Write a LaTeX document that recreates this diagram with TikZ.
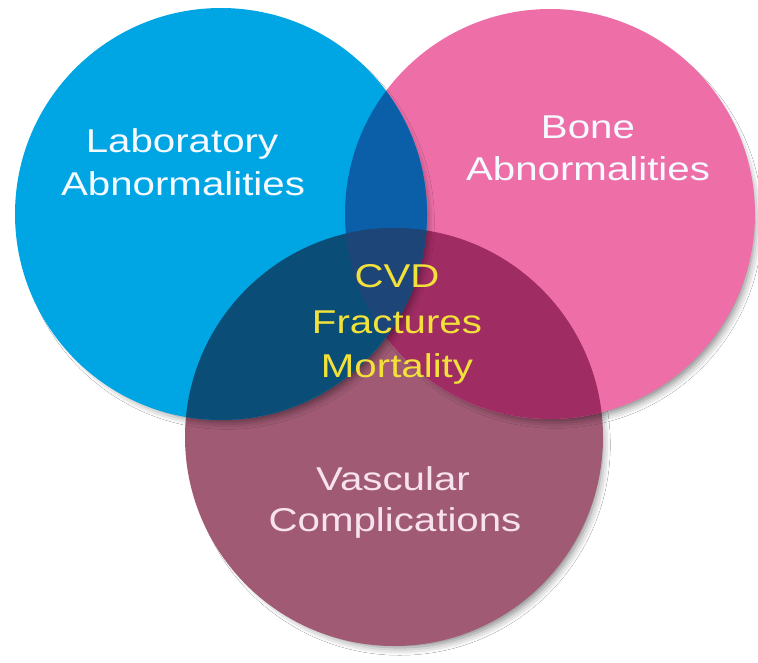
\documentclass[tikz,border=0pt]{standalone}
\usepackage{fontspec}
\setmainfont{Liberation Sans}
\newfontfamily\vennfont[FakeStretch=1.22]{Liberation Sans}
\usetikzlibrary{shadows.blur}
\definecolor{cblue}{HTML}{00A6E4}
\definecolor{cpink}{HTML}{EE6FA8}
\definecolor{cmauve}{HTML}{A05A74}
\definecolor{cbp}{HTML}{0B5FA8}
\definecolor{cbm}{HTML}{0A4E78}
\definecolor{cpm}{HTML}{A02C64}
\definecolor{cbpm}{HTML}{1D4577}
\definecolor{cyel}{HTML}{F2E13A}
\definecolor{cwhite}{HTML}{F4FAFF}
\definecolor{cvtext}{HTML}{F8E2EE}
\tikzset{
  lbl/.style={anchor=base, inner sep=0pt, font=\vennfont\fontsize{33}{43}\selectfont},
  sh/.style={blur shadow={shadow xshift=6pt, shadow yshift=-8pt, shadow scale=0.97, shadow blur radius=8pt, shadow opacity=50}}
}
\begin{document}
\begin{tikzpicture}[x=1pt,y=-1pt]
\useasboundingbox (0,0) rectangle (758,662);
\fill[white] (0,0) rectangle (758,662);
\coordinate (B) at (221,214);
\coordinate (P) at (550,214);
\coordinate (M) at (394,437);
% mauve
\fill[cmauve, sh] (M) circle[radius=209pt];
% pink
\fill[cpink, sh] (P) circle[radius=205pt];
\begin{scope}
  \clip (P) circle[radius=205pt];
  \fill[cpm] (M) circle[radius=209pt];
\end{scope}
% blue
\fill[cblue, sh] (B) circle[radius=206pt];
\begin{scope}
  \clip (B) circle[radius=206pt];
  \fill[cbp] (P) circle[radius=205pt];
  \fill[cbm] (M) circle[radius=209pt];
  \clip (P) circle[radius=205pt];
  \fill[cbpm] (M) circle[radius=209pt];
\end{scope}
% labels
\node[lbl, text=cwhite] (lab1) at (182,152) {Laboratory};
\node[lbl, text=cwhite] (lab2) at (183,195) {Abnormalities};
\node[lbl, text=cwhite] (bone1) at (588,138) {Bone};
\node[lbl, text=cwhite] (bone2) at (588,180) {Abnormalities};
\node[lbl, text=cyel] (c1) at (397,287) {CVD};
\node[lbl, text=cyel] (c2) at (397,333) {Fractures};
\node[lbl, text=cyel] (c3) at (397,377) {Mortality};
\node[lbl, text=cvtext] (v1) at (393,490) {Vascular};
\node[lbl, text=cvtext] (v2) at (395,531) {Complications};
\end{tikzpicture}
\end{document}
